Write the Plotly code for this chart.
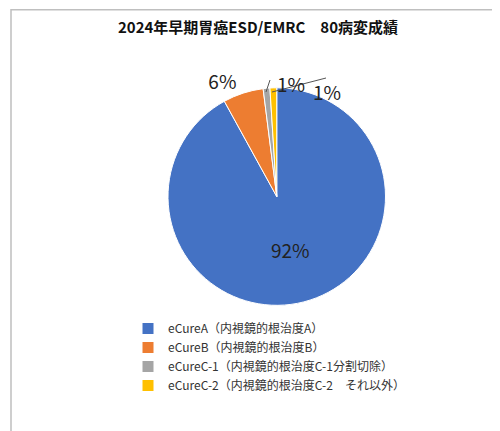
import plotly.graph_objects as go

labels = ['eCureA（内視鏡的根治度A）', 'eCureB（内視鏡的根治度B）',
          'eCureC-1（内視鏡的根治度C-1分割切除）', 'eCureC-2（内視鏡的根治度C-2　それ以外）']
values = [92, 6, 1, 1]
colors = ['#4472C4', '#ED7D31', '#A5A5A5', '#FFC000']

W, H = 500, 431

def px(x, y):
    return x / W, 1 - y / H

fig = go.Figure()
fig.add_trace(go.Pie(
    labels=labels,
    values=values,
    marker=dict(colors=colors, line=dict(color='white', width=1)),
    sort=False,
    direction='clockwise',
    rotation=0,
    texttemplate='%{percent:.0%}',
    textposition=['inside', 'outside', 'none', 'none'],
    insidetextorientation='horizontal',
    textfont=dict(size=19, color='#222'),
    domain=dict(x=[0.32, 0.755], y=[0.31, 0.815]),
    hoverinfo='label+percent',
))

# labels for the two thin slices, placed by hand like the original
ann = []
for txt, (x, y) in [(f'{values[2]}%', (283, 60)), (f'{values[3]}%', (335, 68))]:
    ax, ay = px(x, y)
    ann.append(dict(text=txt, x=ax, y=ay, xref='paper', yref='paper', showarrow=False,
                    font=dict(size=19, color='#222')))
lx0, ly0 = px(264, 84)
lx1, ly1 = px(318, 70)
gx0, gy0 = px(258, 84)
gx1, gy1 = px(262, 72)

fig.update_layout(
    width=W, height=H,
    margin=dict(t=0, l=0, r=0, b=0),
    paper_bgcolor='white',
    font=dict(family='Noto Sans CJK JP', color='#222'),
    title=dict(text='<b>2024年早期胃癌ESD/EMRC　80病変成績</b>', x=0.5, xanchor='center',
               y=0.955, yanchor='middle', font=dict(size=15, color='#111')),
    legend=dict(x=0.24, y=0.29, xanchor='left', yanchor='top',
                font=dict(size=12, color='#333'), itemwidth=30, tracegroupgap=0),
    annotations=ann,
    shapes=[
        dict(type='rect', xref='paper', yref='paper', x0=0.006, y0=0.008, x1=0.992, y1=0.996,
             line=dict(color='#BFBFBF', width=1.5)),
        dict(type='line', xref='paper', yref='paper', x0=lx0, y0=ly0, x1=lx1, y1=ly1,
             line=dict(color='#555', width=1)),
        dict(type='line', xref='paper', yref='paper', x0=gx0, y0=gy0, x1=gx1, y1=gy1,
             line=dict(color='#555', width=1)),
    ],
)
fig.write_html("out.html")
